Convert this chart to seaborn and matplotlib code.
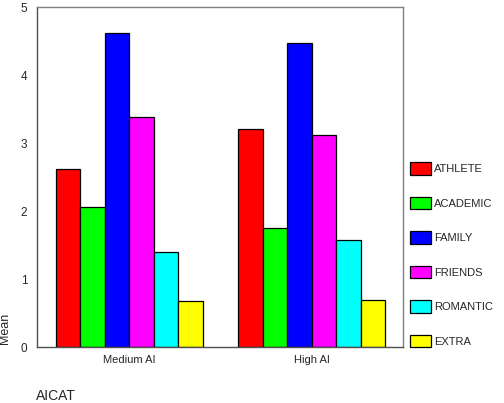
import pandas as pd
import matplotlib
matplotlib.use("Agg")
import matplotlib.pyplot as plt
import seaborn as sns

# data
groups = ["Medium AI", "High AI"]
categories = ["ATHLETE", "ACADEMIC", "FAMILY", "FRIENDS", "ROMANTIC", "EXTRA"]
medium_ai = [2.62, 2.06, 4.62, 3.38, 1.39, 0.68]
high_ai = [3.20, 1.75, 4.47, 3.12, 1.57, 0.69]
colors = ["#ff0000", "#00ff00", "#0000ff", "#ff00ff", "#00ffff", "#ffff00"]
yticks = [0, 1, 2, 3, 4, 5]

rows = []
for g, vals in zip(groups, [medium_ai, high_ai]):
    for c, v in zip(categories, vals):
        rows.append({"AICAT": g, "Category": c, "Mean": v})
df = pd.DataFrame(rows)

sns.set_style("white")
plt.rcParams["font.family"] = ["Liberation Sans", "DejaVu Sans"]

W, H = 504, 403
fig = plt.figure(figsize=(W / 100, H / 100), dpi=100)
ax = fig.add_axes([37 / W, (H - 347) / H, (403 - 37) / W, (347 - 7) / H])

sns.barplot(data=df, x="AICAT", y="Mean", hue="Category", order=groups,
            hue_order=categories, palette=colors, errorbar=None,
            width=0.805, gap=0, edgecolor="black", linewidth=0.9,
            saturation=1, ax=ax, legend=True)

ax.set_ylim(0, 5)
ax.set_xlim(-0.504, 1.5)
ax.set_yticks(yticks)
ax.set_yticklabels([str(t) for t in yticks], fontsize=8.5)
ax.tick_params(axis="y", direction="out", length=3, width=1.8, color="black", pad=4)
ax.tick_params(axis="x", direction="out", length=3, width=1.8, color="black",
               labelsize=8, pad=3)
ax.set_xlabel("")
ax.set_ylabel("")

for side in ["left", "bottom"]:
    ax.spines[side].set_color("#505050")
    ax.spines[side].set_linewidth(1.0)
for side in ["top", "right"]:
    ax.spines[side].set_color("#808080")
    ax.spines[side].set_linewidth(1.0)

# legend outside to the right, no frame
handles, labels = ax.get_legend_handles_labels()
ax.get_legend().remove()
fig.legend(handles, labels, loc="upper left",
           bbox_to_anchor=(410 / W, (H - 162) / H), frameon=False,
           fontsize=8, handlelength=1.9, handleheight=1.4,
           labelspacing=1.95, handletextpad=0.3, borderpad=0,
           borderaxespad=0)

fig.text(5 / W, (H - 328) / H, "Mean", rotation=90, ha="center",
         va="center", fontsize=9)
fig.text(36 / W, (H - 396) / H, "AICAT", ha="left", va="center", fontsize=10)

plt.savefig("out.png", dpi=100)
plt.close()
